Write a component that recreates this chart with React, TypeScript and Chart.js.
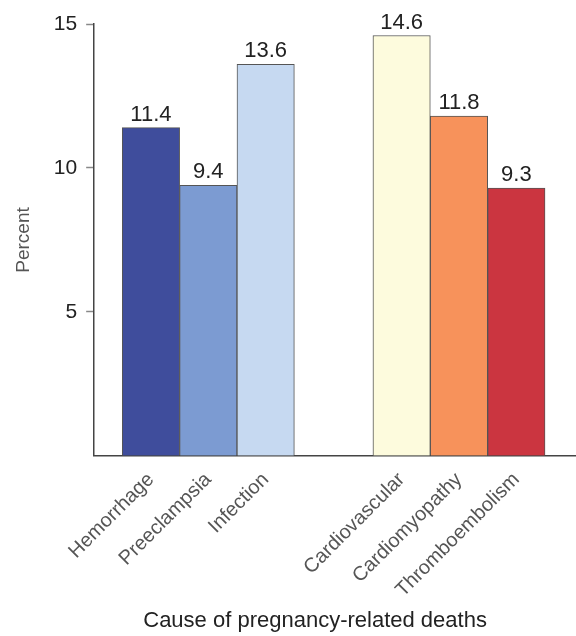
import React, { useEffect, useRef } from "react";
import { Chart, registerables } from "chart.js";

Chart.register(...registerables);

const causes = ["Hemorrhage", "Preeclampsia", "Infection", "Cardiovascular", "Cardiomyopathy", "Thromboembolism"];
const percents = [11.4, 9.4, 13.6, 14.6, 11.8, 9.3];
const groups = [0, 0, 0, 1, 1, 1];
const barColors = ["#3f4d9c", "#7c9bd2", "#c6d9f1", "#fdfbdd", "#f7925b", "#cb3540"];
const yTicks = [5, 10, 15];
const xTitle = "Cause of pregnancy-related deaths";
const GROUP_GAP = 1.37;

const FONT = "'Liberation Sans', Arial, Helvetica, sans-serif";

const positions = causes.map((_, i) => i + groups[i] * GROUP_GAP);

const valueLabels = {
  id: "valueLabels",
  afterDatasetsDraw(chart: any) {
    const ctx = chart.ctx;
    const meta = chart.getDatasetMeta(0);
    ctx.save();
    ctx.font = `22px ${FONT}`;
    ctx.fillStyle = "#222";
    ctx.textAlign = "center";
    ctx.textBaseline = "alphabetic";
    meta.data.forEach((bar: any, i: number) => {
      ctx.fillText(percents[i].toFixed(1), bar.x, bar.y - 7);
    });
    // x-axis title, centred under the page rather than the plot area
    ctx.font = `22px ${FONT}`;
    ctx.fillStyle = "#222";
    ctx.fillText(xTitle, chart.width * 0.547, chart.height - 9);
    ctx.restore();
  },
};

export default function App() {
  const ref = useRef<HTMLCanvasElement>(null);
  useEffect(() => {
    const chart = new Chart(ref.current!, {
      type: "bar",
      data: {
        datasets: [
          {
            data: positions.map((x, i) => ({ x, y: percents[i] })),
            backgroundColor: barColors,
            borderColor: "#555",
            borderWidth: 1,
            barPercentage: 1,
            categoryPercentage: 1,
          },
        ],
      },
      plugins: [valueLabels],
      options: {
        animation: false,
        responsive: false,
        layout: { padding: { top: 24, right: 0, left: 0, bottom: 30 } },
        plugins: { legend: { display: false }, tooltip: { enabled: false } },
        scales: {
          x: {
            type: "linear",
            offset: false,
            min: -0.99,
            max: 7.41,
            grid: { display: false },
            border: { display: true, color: "#444", width: 1.5 },
            afterBuildTicks: (scale: any) => {
              scale.ticks = positions.map((v) => ({ value: v }));
            },
            ticks: {
              autoSkip: false,
              minRotation: 45,
              maxRotation: 45,
              padding: 4,
              color: "#555",
              font: { family: FONT, size: 20 },
              callback: (v: any) => {
                const i = positions.findIndex((p) => Math.abs(p - Number(v)) < 1e-6);
                return i >= 0 ? causes[i] : "";
              },
            },
          },
          y: {
            min: 0,
            max: 15,
            afterBuildTicks: (scale: any) => {
              scale.ticks = [0, ...yTicks].map((v) => ({ value: v }));
            },
            grid: {
              display: true,
              drawOnChartArea: false,
              drawTicks: true,
              tickLength: 8,
              tickColor: (c: any) => (c.tick && c.tick.value === 0 ? "rgba(0,0,0,0)" : "#888"),
              tickWidth: 1.5,
            },
            border: { display: true, color: "#444", width: 1.5 },
            ticks: {
              padding: 9,
              color: "#222",
              font: { family: FONT, size: 21 },
              callback: (v: any) => (Number(v) === 0 ? "" : String(v)),
            },
            title: {
              display: true,
              text: "Percent",
              color: "#555",
              font: { family: FONT, size: 19 },
              padding: { top: 12, bottom: 10 },
            },
          },
        },
      },
    });
    return () => chart.destroy();
  }, []);
  return (
    <div style={{ position: "fixed", left: 0, top: 0, width: 576, height: 636, background: "#fff" }}>
      <canvas ref={ref} width={576} height={636} />
    </div>
  );
}
